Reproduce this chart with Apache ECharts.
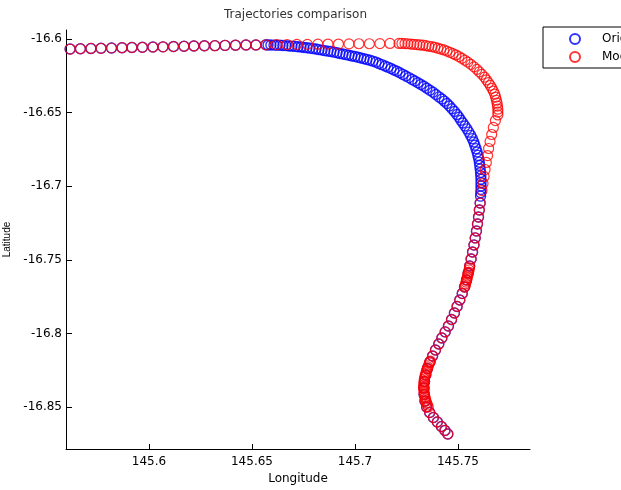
<!DOCTYPE html>
<html>
<head>
<meta charset="utf-8">
<script src="https://cdn.jsdelivr.net/npm/echarts@6/dist/echarts.min.js"></script>
<style>
html, body { margin: 0; padding: 0; background: #fff; }
#chart { width: 621px; height: 490px; }
</style>
</head>
<body>
<div id="chart"></div>
<script>
// tick labels
var lonTicks = [145.6, 145.65, 145.7, 145.75];
var latTicks = [-16.85, -16.8, -16.75, -16.7, -16.65, -16.6];

// [longitude, latitude] pairs
// common start, both trajectories
var sharedStart = [
    [145.5617, -16.6067], [145.5667, -16.6065], [145.5718, -16.6063], [145.5767, -16.6062],
    [145.5818, -16.6060], [145.5869, -16.6058], [145.5917, -16.6056], [145.5968, -16.6055],
    [145.6019, -16.6053], [145.6068, -16.6052], [145.6119, -16.6050], [145.6170, -16.6048],
    [145.6218, -16.6046], [145.6269, -16.6045], [145.6320, -16.6044], [145.6369, -16.6042],
    [145.6420, -16.6041], [145.6471, -16.6039], [145.6519, -16.6039], [145.6568, -16.6038]
];

// original trajectory, the inner bend
var blueBend = [
    [145.6578, -16.6039], [145.6592, -16.6039], [145.6607, -16.6040], [145.6621, -16.6041],
    [145.6636, -16.6041], [145.6650, -16.6043], [145.6665, -16.6044], [145.6680, -16.6046],
    [145.6694, -16.6047], [145.6709, -16.6049], [145.6723, -16.6051], [145.6738, -16.6053],
    [145.6752, -16.6056], [145.6767, -16.6058], [145.6781, -16.6061], [145.6796, -16.6064],
    [145.6811, -16.6067], [145.6825, -16.6071], [145.6840, -16.6074], [145.6854, -16.6078],
    [145.6869, -16.6081], [145.6883, -16.6084], [145.6898, -16.6088], [145.6913, -16.6092],
    [145.6927, -16.6097], [145.6942, -16.6101], [145.6956, -16.6105], [145.6971, -16.6109],
    [145.6985, -16.6114], [145.7000, -16.6118], [145.7015, -16.6123], [145.7029, -16.6128],
    [145.7044, -16.6133], [145.7058, -16.6138], [145.7073, -16.6143], [145.7087, -16.6149],
    [145.7102, -16.6156], [145.7116, -16.6165], [145.7131, -16.6173], [145.7146, -16.6182],
    [145.7160, -16.6190], [145.7175, -16.6199], [145.7189, -16.6209], [145.7204, -16.6218],
    [145.7218, -16.6228], [145.7233, -16.6239], [145.7247, -16.6250], [145.7262, -16.6261],
    [145.7277, -16.6273], [145.7291, -16.6284], [145.7306, -16.6296], [145.7320, -16.6308],
    [145.7335, -16.6320], [145.7349, -16.6333], [145.7364, -16.6347], [145.7379, -16.6361],
    [145.7393, -16.6376], [145.7408, -16.6392], [145.7422, -16.6407], [145.7434, -16.6421],
    [145.7447, -16.6437], [145.7459, -16.6454], [145.7471, -16.6473], [145.7483, -16.6492],
    [145.7495, -16.6512], [145.7505, -16.6531], [145.7514, -16.6551], [145.7524, -16.6570],
    [145.7534, -16.6590], [145.7544, -16.6610], [145.7553, -16.6632], [145.7562, -16.6654],
    [145.7570, -16.6676], [145.7577, -16.6699], [145.7582, -16.6721], [145.7588, -16.6744],
    [145.7593, -16.6767], [145.7597, -16.6790], [145.7601, -16.6813], [145.7604, -16.6836],
    [145.7606, -16.6859], [145.7608, -16.6882], [145.7610, -16.6906], [145.7611, -16.6929],
    [145.7612, -16.6952], [145.7612, -16.6975], [145.7612, -16.6998], [145.7612, -16.7021],
    [145.7611, -16.7044], [145.7610, -16.7067]
];

// modified trajectory, top row and outer bend
var redTopRow = [
    [145.6619, -16.6037], [145.6670, -16.6036], [145.6718, -16.6035], [145.6769, -16.6035],
    [145.6820, -16.6034], [145.6869, -16.6033], [145.6920, -16.6033], [145.6971, -16.6032],
    [145.7019, -16.6031], [145.7070, -16.6031], [145.7121, -16.6030], [145.7170, -16.6029],
    [145.7214, -16.6029]
];
var redBend = [
    [145.7228, -16.6029], [145.7243, -16.6030], [145.7257, -16.6031], [145.7272, -16.6033],
    [145.7286, -16.6035], [145.7301, -16.6037], [145.7315, -16.6039], [145.7330, -16.6041],
    [145.7345, -16.6044], [145.7359, -16.6048], [145.7374, -16.6051], [145.7388, -16.6055],
    [145.7403, -16.6061], [145.7417, -16.6067], [145.7432, -16.6073], [145.7447, -16.6081],
    [145.7461, -16.6089], [145.7476, -16.6098], [145.7490, -16.6107], [145.7505, -16.6118],
    [145.7519, -16.6130], [145.7534, -16.6143], [145.7548, -16.6156], [145.7563, -16.6171],
    [145.7578, -16.6188], [145.7592, -16.6205], [145.7604, -16.6222], [145.7616, -16.6239],
    [145.7629, -16.6258], [145.7638, -16.6276], [145.7648, -16.6295], [145.7657, -16.6314],
    [145.7665, -16.6334], [145.7672, -16.6353], [145.7679, -16.6374], [145.7683, -16.6394],
    [145.7687, -16.6415], [145.7690, -16.6435], [145.7692, -16.6455], [145.7694, -16.6476],
    [145.7694, -16.6496], [145.7694, -16.6515]
];
var redDescent = [
    [145.7682, -16.6553], [145.7672, -16.6600], [145.7664, -16.6648], [145.7656, -16.6695],
    [145.7649, -16.6743], [145.7644, -16.6791], [145.7638, -16.6838], [145.7632, -16.6886],
    [145.7627, -16.6933], [145.7622, -16.6981], [145.7617, -16.7029]
];

// common end, both trajectories
var sharedEnd = [
    [145.7608, -16.7114], [145.7604, -16.7161], [145.7600, -16.7209], [145.7595, -16.7256],
    [145.7590, -16.7304], [145.7584, -16.7351], [145.7578, -16.7399], [145.7571, -16.7447],
    [145.7564, -16.7494], [145.7557, -16.7542], [145.7550, -16.7589], [145.7542, -16.7637],
    [145.7532, -16.7685], [145.7521, -16.7729], [145.7509, -16.7773], [145.7496, -16.7817],
    [145.7483, -16.7861], [145.7469, -16.7906], [145.7454, -16.7950], [145.7438, -16.7990],
    [145.7422, -16.8031], [145.7407, -16.8072], [145.7391, -16.8113], [145.7377, -16.8154],
    [145.7364, -16.8194], [145.7352, -16.8239], [145.7344, -16.8283], [145.7338, -16.8327],
    [145.7335, -16.8371], [145.7336, -16.8415], [145.7340, -16.8460], [145.7348, -16.8500],
    [145.7363, -16.8538], [145.7381, -16.8572], [145.7400, -16.8602], [145.7420, -16.8633],
    [145.7437, -16.8660], [145.7451, -16.8684]
];

// extra modified points where it slows down
var redCluster1 = [
    [145.7556, -16.7555], [145.7554, -16.7569], [145.7552, -16.7583], [145.7549, -16.7596],
    [145.7547, -16.7610], [145.7545, -16.7623], [145.7542, -16.7637], [145.7540, -16.7651],
    [145.7537, -16.7664], [145.7535, -16.7678]
];
var redCluster2 = [
    [145.7366, -16.8188], [145.7362, -16.8201], [145.7358, -16.8215], [145.7354, -16.8228],
    [145.7351, -16.8242], [145.7347, -16.8256], [145.7345, -16.8269], [145.7342, -16.8283],
    [145.7339, -16.8296], [145.7337, -16.8310], [145.7336, -16.8324], [145.7335, -16.8337],
    [145.7334, -16.8351], [145.7334, -16.8364], [145.7335, -16.8378], [145.7335, -16.8392],
    [145.7336, -16.8405], [145.7338, -16.8419], [145.7340, -16.8432], [145.7342, -16.8446],
    [145.7345, -16.8460], [145.7348, -16.8473], [145.7352, -16.8487], [145.7356, -16.8500]
];

var originalData = sharedStart.concat(blueBend, sharedEnd);
var modifiedData = sharedStart.concat(redTopRow, redBend, redDescent, sharedEnd, redCluster1, redCluster2);

var chart = echarts.init(document.getElementById("chart"));
var axisFont = { fontFamily: "DejaVu Sans", fontSize: 12, color: "#000" };

var option = {
    animation: false,
    backgroundColor: "#fff",
    title: {
        text: "Trajectories comparison",
        left: 224,
        top: 9,
        padding: 0,
        textStyle: { fontFamily: "DejaVu Sans", fontSize: 12, fontWeight: "normal", color: "#333" }
    },
    legend: {
        orient: "vertical",
        left: 543,
        top: 27,
        padding: [6, 40, 5, 26],
        itemWidth: 44,
        itemHeight: 10,
        itemGap: 6,
        borderColor: "#000",
        borderWidth: 1,
        borderRadius: 0,
        icon: "circle",
        textStyle: { fontFamily: "DejaVu Sans", fontSize: 12, color: "#000" },
        data: ["Original", "Modified"]
    },
    grid: { left: 66, right: 91, top: 30, bottom: 41, outerBoundsMode: "none" },
    xAxis: {
        type: "value",
        min: 145.5597,
        max: 145.785,
        name: "Longitude",
        nameLocation: "middle",
        nameGap: 22,
        nameTextStyle: axisFont,
        axisLine: { lineStyle: { color: "#000", width: 1 } },
        axisTick: { inside: true, length: 5, customValues: lonTicks, lineStyle: { color: "#000" } },
        axisLabel: Object.assign({ margin: 7, customValues: lonTicks }, axisFont),
        splitLine: { show: false }
    },
    yAxis: {
        type: "value",
        min: -16.8786,
        max: -16.59375,
        name: "Latitude",
        nameLocation: "middle",
        nameGap: 54,
        nameTextStyle: { fontFamily: "Liberation Sans", fontSize: 10, color: "#000" },
        axisLine: { lineStyle: { color: "#000", width: 1 } },
        axisTick: { inside: true, length: 6, customValues: latTicks, lineStyle: { color: "#000" } },
        axisLabel: Object.assign({ margin: 4, customValues: latTicks }, axisFont),
        splitLine: { show: false }
    },
    series: [
        {
            name: "Original",
            type: "scatter",
            symbol: "circle",
            symbolSize: 10,
            itemStyle: { color: "rgba(0,0,0,0)", borderColor: "#0000ff", borderWidth: 1.4 },
            emphasis: { disabled: true },
            data: originalData
        },
        {
            name: "Modified",
            type: "scatter",
            symbol: "circle",
            symbolSize: 10,
            itemStyle: { color: "rgba(0,0,0,0)", borderColor: "#ff0000", borderWidth: 1.2, opacity: 0.8 },
            emphasis: { disabled: true },
            data: modifiedData
        }
    ]
};
chart.setOption(option);
</script>
</body>
</html>
